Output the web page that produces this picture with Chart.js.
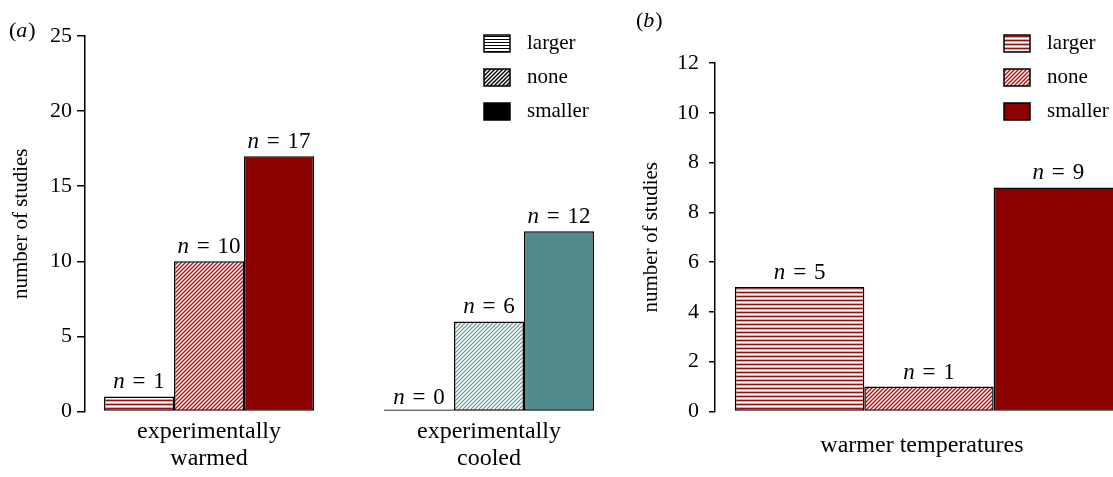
<!DOCTYPE html>
<html><head><meta charset="utf-8">
<script src="https://cdn.jsdelivr.net/npm/chart.js@4.4.0/dist/chart.umd.min.js"></script>
<style>
html,body{margin:0;padding:0;background:#fff;}
#wrap{position:relative;width:1113px;height:477px;overflow:hidden;background:#fff;}
#ca{position:absolute;left:0;top:0;}
#cb{position:absolute;left:620px;top:0;}
</style></head><body>
<div id="wrap">
<canvas id="ca" width="620" height="477"></canvas>
<canvas id="cb" width="493" height="477"></canvas>
</div>
<script>
// ---- data ----
const seriesNames = ["larger", "none", "smaller"];
const groupsA = [["experimentally", "warmed"], ["experimentally", "cooled"]];
const largerA = [1, 0];
const noneA = [10, 6];
const smallerA = [17, 12];
const yTickLabelsA = ["0", "5", "10", "15", "20", "25"];
const groupsB = ["warmer temperatures"];
const largerB = [5];
const noneB = [1];
const smallerB = [9];
const yTickLabelsB = ["0", "2", "4", "6", "8", "8", "10", "12"];

// ---- styles ----
const FONT = "'Liberation Serif', 'DejaVu Serif', serif";
const RED = "#8b0000";
const TEAL = "#528b8b";

function tile(w, h, draw) {
  const c = document.createElement('canvas'); c.width = w; c.height = h;
  const x = c.getContext('2d');
  x.fillStyle = '#fff'; x.fillRect(0, 0, w, h);
  draw(x, w, h);
  return x.createPattern(c, 'repeat');
}
function stripes(dark, mid, period) {
  return tile(4, period, (x, w, h) => {
    x.fillStyle = dark; x.fillRect(0, 0, w, 1);
    if (mid) { x.fillStyle = mid; x.fillRect(0, 1, w, 1); x.fillRect(0, h - 1, w, 1); }
  });
}
function hatch(color, size, lw) {
  return tile(size, size, (x, s) => {
    x.strokeStyle = color; x.lineWidth = lw;
    x.beginPath();
    x.moveTo(0, s); x.lineTo(s, 0);
    x.moveTo(-1, 1); x.lineTo(1, -1);
    x.moveTo(s - 1, s + 1); x.lineTo(s + 1, s - 1);
    x.stroke();
  });
}
const P = {
  redStripe: stripes("#9a0f0f", "#dba3a3", 4),
  tealStripe: stripes(TEAL, "#a9c5c5", 4),
  redHatch: hatch("#a01818", 4, 1.4),
  tealHatch: hatch("#5f9595", 4, 1.2),
  blackStripe: stripes("#000", null, 3),
  blackHatch: hatch("#000", 4, 1.4)
};

function drawN(ctx, x, yBase, value, size) {
  const gap = size * 0.34;
  ctx.font = `italic ${size}px ${FONT}`;
  const wn = ctx.measureText('n').width;
  ctx.font = `${size}px ${FONT}`;
  const we = ctx.measureText('=').width;
  const wv = ctx.measureText(String(value)).width;
  let sx = x - (wn + gap + we + gap + wv) / 2;
  ctx.fillStyle = '#000'; ctx.textAlign = 'left'; ctx.textBaseline = 'alphabetic';
  ctx.font = `italic ${size}px ${FONT}`; ctx.fillText('n', sx, yBase);
  ctx.font = `${size}px ${FONT}`;
  ctx.fillText('=', sx + wn + gap, yBase);
  ctx.fillText(String(value), sx + wn + gap + we + gap, yBase);
}

function overlay(cfg) {
  return {
    id: 'overlay',
    afterDatasetsDraw(chart) {
      const ctx = chart.ctx;
      ctx.save();
      chart.data.datasets.forEach((ds, di) => {
        const meta = chart.getDatasetMeta(di);
        meta.data.forEach((el, i) => {
          const v = ds.data[i].y;
          const top = chart.scales.y.getPixelForValue(v);
          drawN(ctx, el.x, top - 8, v, cfg.nSize);
        });
      });
      seriesNames.forEach((name, i) => {
        const cy = cfg.legY + i * cfg.legStep;
        ctx.fillStyle = cfg.legFill[i];
        ctx.fillRect(cfg.legX, cy - 8, 26, 17);
        ctx.strokeStyle = '#000'; ctx.lineWidth = 1.5;
        ctx.strokeRect(cfg.legX, cy - 8, 26, 17);
        ctx.fillStyle = '#000'; ctx.font = `21px ${FONT}`;
        ctx.textAlign = 'left'; ctx.textBaseline = 'middle';
        ctx.fillText(name, cfg.legX + 43, cy);
      });
      ctx.fillStyle = '#000';
      ctx.textBaseline = 'middle'; ctx.textAlign = 'left';
      ctx.font = `22px ${FONT}`;
      const wp = ctx.measureText('(').width;
      ctx.fillText('(', cfg.panX, cfg.panY);
      ctx.font = `italic 22px ${FONT}`;
      const wl = ctx.measureText(cfg.panel).width;
      ctx.fillText(cfg.panel, cfg.panX + wp, cfg.panY);
      ctx.font = `22px ${FONT}`;
      ctx.fillText(')', cfg.panX + wp + wl + 1, cfg.panY);
      ctx.restore();
    }
  };
}

function pts(arr) { return arr.map((v, i) => ({ x: i, y: v })); }

const barDefaults = { borderColor: '#000', borderWidth: 1.5, borderSkipped: false, minBarLength: 2 };

// ---- chart (a) ----
new Chart(document.getElementById('ca'), {
  type: 'bar',
  data: {
    datasets: [
      Object.assign({ label: seriesNames[0], data: pts(largerA), backgroundColor: [P.redStripe, P.tealStripe] }, barDefaults),
      Object.assign({ label: seriesNames[1], data: pts(noneA), backgroundColor: [P.redHatch, P.tealHatch] }, barDefaults),
      Object.assign({ label: seriesNames[2], data: pts(smallerA), backgroundColor: [RED, TEAL] }, barDefaults)
    ]
  },
  options: {
    responsive: false, animation: false,
    layout: { padding: { left: 0, top: 36, right: 0, bottom: 0 } },
    datasets: { bar: { categoryPercentage: 0.75, barPercentage: 1 } },
    plugins: { legend: { display: false }, tooltip: { enabled: false } },
    scales: {
      x: {
        type: 'linear', min: -0.443, max: 1.468, offset: false,
        grid: { display: false, drawTicks: false, offset: false }, border: { display: false },
        afterBuildTicks: s => { s.ticks = groupsA.map((g, i) => ({ value: i })); },
        afterFit: s => { s.height = 65.5; },
        ticks: { padding: 7, color: '#000', maxRotation: 0, autoSkip: false,
          font: { family: FONT, size: 24, lineHeight: 1.13 },
          callback: (v, i) => groupsA[i] }
      },
      y: {
        min: 0, max: 25,
        afterFit: s => { s.width = 85; },
        ticks: { stepSize: 5, padding: 5, color: '#000', font: { family: FONT, size: 22 },
          callback: (v, i) => yTickLabelsA[i] },
        grid: { drawOnChartArea: false, tickLength: 8, color: '#000', lineWidth: 1.5 },
        border: { display: true, color: '#000', width: 1.5 },
        title: { display: true, text: 'number of studies', color: '#000',
          font: { family: FONT, size: 21 }, padding: { top: 9, bottom: 0 } }
      }
    }
  },
  plugins: [overlay({ nSize: 23, legX: 484, legY: 43, legStep: 34,
    legFill: [P.blackStripe, P.blackHatch, '#000'], panel: 'a', panX: 9, panY: 31 })]
});

// ---- chart (b) ----
new Chart(document.getElementById('cb'), {
  type: 'bar',
  data: {
    datasets: [
      Object.assign({ label: seriesNames[0], data: pts(largerB), backgroundColor: P.redStripe }, barDefaults),
      Object.assign({ label: seriesNames[1], data: pts(noneB), backgroundColor: P.redHatch }, barDefaults),
      Object.assign({ label: seriesNames[2], data: pts(smallerB), backgroundColor: RED }, barDefaults)
    ]
  },
  options: {
    responsive: false, animation: false,
    layout: { padding: { left: 0, top: 63, right: 0, bottom: 0 } },
    datasets: { bar: { categoryPercentage: 0.975, barPercentage: 1 } },
    plugins: { legend: { display: false }, tooltip: { enabled: false } },
    scales: {
      x: {
        type: 'linear', min: -1, max: 0.86, offset: false,
        grid: { display: false, drawTicks: false, offset: false }, border: { display: false },
        afterBuildTicks: s => { s.ticks = groupsB.map((g, i) => ({ value: i })); },
        afterFit: s => { s.height = 65.5; },
        ticks: { padding: 21, labelOffset: -7, color: '#000', maxRotation: 0, autoSkip: false,
          font: { family: FONT, size: 24, lineHeight: 1.13 },
          callback: (v, i) => groupsB[i] }
      },
      y: {
        min: 0, max: 14,
        afterFit: s => { s.width = 95; },
        ticks: { stepSize: 2, padding: 10, color: '#000', font: { family: FONT, size: 22 },
          callback: (v, i) => yTickLabelsB[i] },
        grid: { drawOnChartArea: false, tickLength: 6, color: '#000', lineWidth: 1.5 },
        border: { display: true, color: '#000', width: 1.5 },
        title: { display: true, text: 'number of studies', color: '#000',
          font: { family: FONT, size: 21 }, padding: { top: 19, bottom: 0 } }
      }
    }
  },
  plugins: [overlay({ nSize: 23, legX: 384, legY: 43, legStep: 34,
    legFill: [P.redStripe, P.redHatch, RED], panel: 'b', panX: 16, panY: 21 })]
});
</script>
</body></html>
